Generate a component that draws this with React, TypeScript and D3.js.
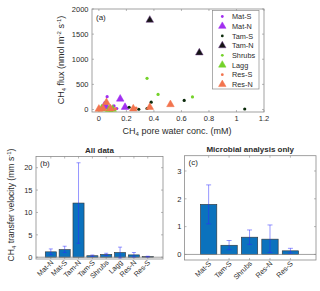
import * as d3 from "d3";

// panel (a): CH4 flux vs pore water concentration, [conc mM, flux nmol m-2 s-1]
const matS = [[0.06, 255], [0.11, 70], [0.045, 90], [0.13, 20], [0.08, 10]];
const matN = [[0.155, 210], [0.19, 45], [0.04, 80], [0.055, 55]];
const tamS = [[0.22, 45], [0.29, 5], [0.35, 20], [0.38, 145], [0.62, 180], [1.06, 10]];
const tamN = [[0.37, 1780], [0.73, 1130]];
const shrubs = [[0.35, 620], [0.43, 300], [0.68, 250]];
const lagg = [[0.1, 8], [0.02, 15], [0.075, 5]];
const resS = [[0.27, 30], [0.03, 10], [0.12, 15], [0.0, 5]];
const resN = [[0.055, 140], [0.25, 15], [0.37, 45], [0.52, 100], [0.0, 10], [0.03, 20], [0.085, 15]];

const seriesNames = ["Mat-S", "Mat-N", "Tam-S", "Tam-N", "Shrubs", "Lagg", "Res-S", "Res-N"];
const seriesData = [matS, matN, tamS, tamN, shrubs, lagg, resS, resN];
const seriesColors = ["#a12ff0", "#a12ff0", "#0b2b0b", "#151515", "#74d22a", "#74d22a", "#f2744e", "#f2744e"];
const seriesTriangle = [false, true, false, true, false, true, false, true];

const fluxTicks = [0, 500, 1000, 1500, 2000];
const concTicks = [0, 0.2, 0.4, 0.6, 0.8, 1, 1.2];

// panel (b): all data
const allSites = ["Mat-N", "Mat-S", "Tam-N", "Tam-S", "Shrubs", "Lagg", "Res-N", "Res-S"];
const allMean = [1.2, 1.7, 12.1, 0.33, 0.62, 1.05, 0.52, 0.13];
const allLo = [0.6, 1.05, 3.1, 0.17, 0.38, -0.15, 0.05, 0.05];
const allHi = [1.85, 2.45, 21.1, 0.5, 0.88, 2.25, 1.05, 0.22];
const allTicks = [0, 5, 10, 15, 20];

// panel (c): microbial analysis only
const microSites = ["Mat-S", "Tam-S", "Shrubs", "Res-N", "Res-S"];
const microMean = [1.8, 0.33, 0.62, 0.55, 0.13];
const microLo = [1.1, 0.17, 0.36, 0.07, 0.05];
const microHi = [2.5, 0.5, 0.88, 1.06, 0.22];
const microTicks = [0, 1, 2, 3];

const FONT = "'Liberation Sans', Arial, sans-serif";
const AXIS = "#8a8a8a";
const TXT = "#2b2b2b";

function Frame({ x0, x1, y0, y1 }) {
  return <rect x={x0} y={y0} width={x1 - x0} height={y1 - y0} fill="#fff" stroke={AXIS} strokeWidth={0.8} />;
}

function Scatter() {
  const x = d3.scaleLinear().domain([-0.05, 1.2]).range([92, 264]);
  const y = d3.scaleLinear().domain([-50, 2000]).range([112, 9]);
  const tri = d3.symbol(d3.symbolTriangle, 25)();
  const triSmall = d3.symbol(d3.symbolTriangle, 24)();
  const [x0, x1] = x.range();
  const [y1, y0] = y.range();
  return (
    <g>
      <Frame x0={x0} x1={x1} y0={y0} y1={y1} />
      {concTicks.map((t) => (
        <g key={t}>
          <line x1={x(t)} x2={x(t)} y1={y1} y2={y1 - 2} stroke={AXIS} strokeWidth={0.6} />
          <line x1={x(t)} x2={x(t)} y1={y0} y2={y0 + 2} stroke={AXIS} strokeWidth={0.6} />
          <text x={x(t)} y={121} textAnchor="middle" fontSize={7.5} fill={TXT}>{t}</text>
        </g>
      ))}
      {fluxTicks.map((t) => (
        <g key={t}>
          <line x1={x0} x2={x0 + 2} y1={y(t)} y2={y(t)} stroke={AXIS} strokeWidth={0.6} />
          <line x1={x1} x2={x1 - 2} y1={y(t)} y2={y(t)} stroke={AXIS} strokeWidth={0.6} />
          <text x={88.5} y={y(t) + 2.7} textAnchor="end" fontSize={7.5} fill={TXT}>{t}</text>
        </g>
      ))}
      {seriesData.map((pts, i) =>
        pts.map((p, j) =>
          seriesTriangle[i] ? (
            <path key={i + "-" + j} d={tri} transform={`translate(${x(p[0])},${y(p[1])})`}
              fill={seriesColors[i]} stroke={i === 3 ? "#6a3a86" : seriesColors[i]} strokeWidth={0.5} />
          ) : (
            <circle key={i + "-" + j} cx={x(p[0])} cy={y(p[1])} r={1.6} fill={seriesColors[i]} />
          )
        )
      )}
      <text x={96} y={20} fontSize={8} fill={TXT}>(a)</text>
      {/* legend */}
      <rect x={212.5} y={10.5} width={46.5} height={78.5} fill="#fff" stroke={AXIS} strokeWidth={0.7} />
      {seriesNames.map((n, i) => {
        const ly = 16.5 + i * 9.7;
        return (
          <g key={n}>
            {seriesTriangle[i] ? (
              <path d={triSmall} transform={`translate(222.3,${ly})`} fill={seriesColors[i]}
                stroke={i === 3 ? "#6a3a86" : seriesColors[i]} strokeWidth={0.5} />
            ) : (
              <circle cx={222.3} cy={ly} r={1.4} fill={seriesColors[i]} />
            )}
            <text x={232} y={ly + 2.7} fontSize={7.3} fill={TXT}>{n}</text>
          </g>
        );
      })}
      <text transform="translate(64,60) rotate(-90)" textAnchor="middle" fontSize={9} fill={TXT}>
        CH<tspan fontSize={6} dy={2}>4</tspan><tspan dy={-2}> flux (nmol m</tspan>
        <tspan fontSize={6} dy={-3}>-2</tspan><tspan dy={3}> s</tspan>
        <tspan fontSize={6} dy={-3}>-1</tspan><tspan dy={3}>)</tspan>
      </text>
      <text x={177} y={134} textAnchor="middle" fontSize={9} fill={TXT}>
        CH<tspan fontSize={6} dy={2}>4</tspan><tspan dy={-2}> pore water conc. (mM)</tspan>
      </text>
    </g>
  );
}

function BarPanel({ sites, mean, lo, hi, ticks, xDomain, yDomain, left, right, top, bottom, label, title, tickX, capW }) {
  const x = d3.scaleLinear().domain(xDomain).range([left, right]);
  const y = d3.scaleLinear().domain(yDomain).range([bottom, top]);
  const bw = x(0.8) - x(0);
  return (
    <g>
      <Frame x0={left} x1={right} y0={top} y1={bottom} />
      {ticks.map((t) => (
        <g key={t}>
          <line x1={left} x2={left + 2} y1={y(t)} y2={y(t)} stroke={AXIS} strokeWidth={0.6} />
          <line x1={right} x2={right - 2} y1={y(t)} y2={y(t)} stroke={AXIS} strokeWidth={0.6} />
          <text x={tickX} y={y(t) + 2.7} textAnchor="end" fontSize={7.5} fill={TXT}>{t}</text>
        </g>
      ))}
      {sites.map((s, i) => (
        <g key={s}>
          <line x1={x(i + 1)} x2={x(i + 1)} y1={bottom} y2={bottom - 2} stroke={AXIS} strokeWidth={0.6} />
          <line x1={x(i + 1)} x2={x(i + 1)} y1={top} y2={top + 2} stroke={AXIS} strokeWidth={0.6} />
          <text transform={`translate(${x(i + 1) + 3},${bottom + 4}) rotate(-45)`} textAnchor="end"
            fontSize={7.2} fill={TXT}>{s}</text>
        </g>
      ))}
      {mean.map((m, i) => (
        <rect key={i} x={x(i + 1) - bw / 2} y={y(m)} width={bw} height={y(0) - y(m)}
          fill="#0b72bd" stroke="#333" strokeWidth={0.6} />
      ))}
      <line x1={left} x2={right} y1={y(0)} y2={y(0)} stroke={AXIS} strokeWidth={0.8} />
      {mean.map((m, i) => (
        <g key={i} stroke="#2a2aff" strokeOpacity={0.55} strokeWidth={0.9}>
          <line x1={x(i + 1)} x2={x(i + 1)} y1={y(lo[i])} y2={y(hi[i])} />
          <line x1={x(i + 1) - capW} x2={x(i + 1) + capW} y1={y(lo[i])} y2={y(lo[i])} />
          <line x1={x(i + 1) - capW} x2={x(i + 1) + capW} y1={y(hi[i])} y2={y(hi[i])} />
        </g>
      ))}
      <text x={left + 4} y={top + 9} fontSize={8} fill={TXT}>{label}</text>
      <text x={(left + right) / 2} y={top - 4} textAnchor="middle" fontSize={8} fontWeight="bold" fill={TXT}>{title}</text>
    </g>
  );
}

export default function App() {
  return (
    <svg width={320} height={291} style={{ position: "absolute", left: 0, top: 0, fontFamily: FONT }}>
      <rect width={320} height={291} fill="#fff" />
      <Scatter />
      <BarPanel sites={allSites} mean={allMean} lo={allLo} hi={allHi} ticks={allTicks}
        xDomain={[-0.07, 9.1]} yDomain={[-0.4, 22.5]} left={36} right={163} top={156.5} bottom={259}
        label="(b)" title="All data" tickX={32.5} capW={2} />
      <BarPanel sites={microSites} mean={microMean} lo={microLo} hi={microHi} ticks={microTicks}
        xDomain={[-0.18, 6.25]} yDomain={[-0.2, 3.55]} left={184.5} right={316} top={155.7} bottom={260}
        label="(c)" title="Microbial analysis only" tickX={181.5} capW={2.5} />
      <text transform="translate(14,205) rotate(-90)" textAnchor="middle" fontSize={8.6} fill={TXT}>
        CH<tspan fontSize={6} dy={2}>4</tspan><tspan dy={-2}> transfer velocity (mm s</tspan>
        <tspan fontSize={6} dy={-3}>-1</tspan><tspan dy={3}>)</tspan>
      </text>
    </svg>
  );
}
